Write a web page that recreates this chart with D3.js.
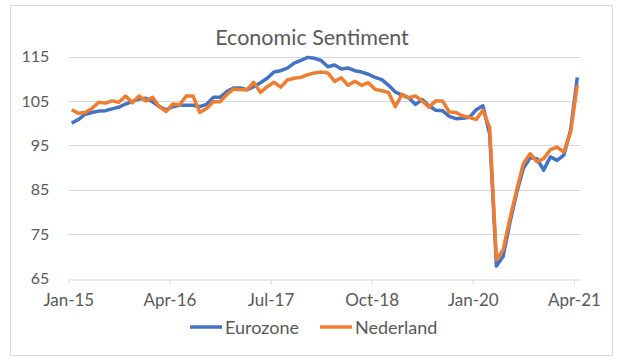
<!DOCTYPE html>
<html><head><meta charset="utf-8">
<script src="https://cdn.jsdelivr.net/npm/d3@7"></script>
<style>body{margin:0;background:#fff}svg{display:block}</style>
</head><body>
<svg id="c" width="625" height="363"></svg>
<script>
const title = "Economic Sentiment";
const xTickLabels = ["Jan-15","Apr-16","Jul-17","Oct-18","Jan-20","Apr-21"];
const xTickIndex = [0,15,30,45,60,75];
const yTicks = [65,75,85,95,105,115];
const seriesNames = ["Eurozone","Nederland"];
const eurozone = [100.0,100.8,102.0,102.4,102.7,102.8,103.2,103.6,104.3,104.9,105.4,105.6,
  104.8,103.7,103.0,103.7,104.0,104.0,104.0,103.7,104.2,105.8,105.8,107.1,
  107.9,107.9,107.5,108.2,109.1,110.1,111.5,111.8,112.4,113.5,114.1,114.8,
  114.6,114.1,112.7,113.1,112.2,112.4,111.8,111.5,111.0,110.3,109.8,108.5,
  107.0,106.3,105.7,104.2,105.3,103.9,102.9,102.8,101.5,101.0,101.1,101.3,
  103.0,103.9,97.5,67.8,70.0,77.6,84.3,89.8,92.2,92.0,89.4,92.4,
  91.6,92.8,98.4,110.3];
const nederland = [103.0,102.2,102.4,103.3,104.7,104.5,105.0,104.7,106.1,104.6,106.1,105.0,
  105.8,103.7,102.6,104.3,104.1,106.1,106.1,102.4,103.3,104.8,104.8,106.4,
  107.7,107.5,107.5,109.2,106.9,108.2,109.2,108.1,109.7,110.1,110.3,110.9,
  111.3,111.5,111.3,109.4,110.2,108.5,109.4,108.5,109.1,107.6,107.3,106.9,
  103.7,106.5,105.7,106.1,105.0,103.6,105.0,105.0,102.5,102.4,101.6,101.3,
  100.8,102.9,99.0,69.2,71.5,78.5,84.9,90.9,93.1,91.3,92.0,94.0,
  94.6,93.5,98.0,108.6];
const colors = ["#4472C4","#ED7D31"];

const svg = d3.select("#c");
const font = "Lato, 'Open Sans', sans-serif";
const textColor = "#595959";

svg.append("rect").attr("x",10.5).attr("y",5.5).attr("width",602).attr("height",350)
  .attr("fill","#fff").attr("stroke","#d9d9d9").attr("stroke-width",1);

const pLeft = 68.3, pRight = 580.7, pTop = 56.5, pBottom = 278.5;
const x = d3.scaleLinear().domain([0, 76]).range([pLeft, pRight]);
const y = d3.scaleLinear().domain([65, 115]).range([pBottom, pTop]);

svg.append("g").selectAll("line").data(yTicks.filter(d => d !== 65)).join("line")
  .attr("x1", pLeft).attr("x2", pRight)
  .attr("y1", d => Math.round(y(d)) + 0.5).attr("y2", d => Math.round(y(d)) + 0.5)
  .attr("stroke","#d9d9d9").attr("stroke-width",1);

const xAxis = d3.axisBottom(x).tickValues(xTickIndex)
  .tickFormat((d,i) => xTickLabels[i]).tickSize(5).tickSizeOuter(0);
const gx = svg.append("g").attr("transform", `translate(0,${Math.round(y(65)) + 0.5})`).call(xAxis);
gx.select(".domain").attr("stroke","#d9d9d9");
gx.selectAll(".tick line").attr("stroke","#d9d9d9");
gx.selectAll(".tick text").attr("fill",textColor).attr("font-family",font)
  .attr("font-size","17px").attr("dy","0.71em").attr("y",14);

const yAxis = d3.axisLeft(y).tickValues(yTicks).tickSize(0).tickPadding(19);
const gy = svg.append("g").attr("transform", `translate(${pLeft},0)`).call(yAxis);
gy.select(".domain").remove();
gy.selectAll(".tick text").attr("fill",textColor).attr("font-family",font).attr("font-size","16px");

const line = d3.line().x((d,i) => x(i + 0.5)).y(d => y(d));
[eurozone, nederland].forEach((s, i) => {
  svg.append("path").datum(s).attr("d", line).attr("fill","none")
    .attr("stroke", colors[i]).attr("stroke-width", 3.5)
    .attr("stroke-linejoin","round").attr("stroke-linecap","butt");
});

svg.append("text").attr("x", 312).attr("y", 45).attr("text-anchor","middle")
  .attr("fill",textColor).attr("font-family",font).attr("font-size","21.5px").text(title);

const legendItems = [{name: seriesNames[0], x: 190}, {name: seriesNames[1], x: 320}];
const lg = svg.append("g");
legendItems.forEach((it, i) => {
  lg.append("line").attr("x1", it.x).attr("x2", it.x + 32).attr("y1", 327).attr("y2", 327)
    .attr("stroke", colors[i]).attr("stroke-width", 3.5);
  lg.append("text").attr("x", it.x + 35).attr("y", 333.5).attr("fill", textColor)
    .attr("font-family", font).attr("font-size", "18px").text(it.name);
});
</script>
</body></html>
